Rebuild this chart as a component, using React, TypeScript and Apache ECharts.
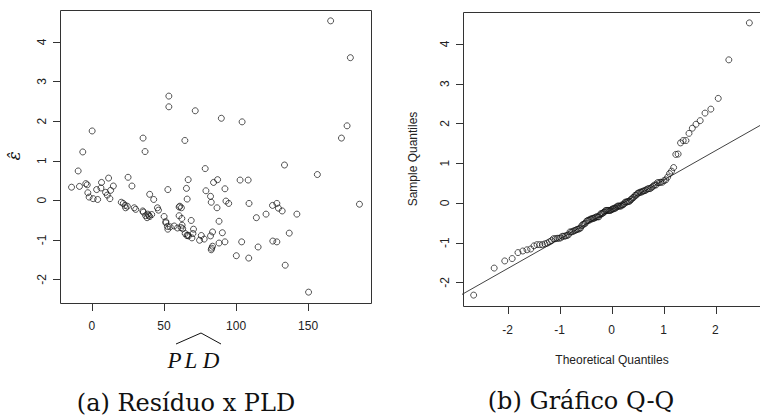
import React, { useEffect, useRef } from "react";
import * as echarts from "echarts";

// Fitted PLD (x) and residuals (y)
const pldHat: number[] = [
  165.6, 179.3, 53.4, 53.4, 71.7, 89.8, 104.2, 0.2, -6.3, -9.5, -14.1, -8.6, -4.2, -3.2, -2.8, -1.9, 0.9, 4.0, 3.3, 6.3,
  6.7, 11.6, 10.7, 12.5, 13.0, 14.9, 25.1, 27.8, 20.4, 21.8, 23.0, 23.4, 24.6, 29.4, 30.4, 35.3, 35.7, 37.3, 38.3, 40.1,
  41.5, 39.5, 35.5, 36.9, 40.1, 42.9, 45.5, 46.2, 50.1, 51.3, 52.7, 60.5, 62.1, 60.5, 62.4, 68.9, 64.5, 66.8, 65.6, 66.1,
  78.6, 79.1, 82.3, 82.8, 84.4, 87.2, 86.8, 88.2, 92.3, 93.0, 94.9, 102.8, 108.4, 109.0, 114.1, 120.8, 125.3, 128.3, 129.4, 132.0,
  133.6, 142.2, 156.4, 173.1, 177.0, 185.6,
  51.3, 52.4, 52.7, 54.3, 57.1, 59.4, 61.9, 62.6, 64.7, 65.9, 67.0, 69.4, 70.1, 70.5, 74.7, 75.9, 77.9, 82.3, 83.7, 83.7,
  82.8, 83.1, 88.2, 90.5, 92.3, 100.2, 103.9, 108.8, 115.3, 125.5, 128.3, 136.9, 134.1, 150.3,
  61.0, 63.0, 66.5, 9.5, 38.8,
];
const residuals: number[] = [
  4.53, 3.6, 2.63, 2.36, 2.26, 2.07, 1.98, 1.75, 1.22, 0.74, 0.33, 0.35, 0.42, 0.39, 0.19, 0.08, 0.04, 0.02, 0.27, 0.31,
  0.45, 0.56, 0.13, 0.04, 0.25, 0.36, 0.58, 0.36, -0.05, -0.08, -0.13, -0.19, -0.15, -0.19, -0.23, -0.27, -0.3, -0.39, -0.44, -0.41,
  -0.36, -0.38, 1.57, 1.23, 0.15, 0.02, -0.19, -0.25, -0.41, -0.54, 0.27, -0.17, -0.19, -0.39, -0.46, -0.51, 1.51, 0.52, 0.3, 0.03,
  0.8, 0.24, 0.1, -0.05, 0.45, 0.52, -0.19, -0.53, 0.29, -0.02, -0.08, 0.51, 0.51, -0.08, -0.44, -0.35, -0.13, -0.08, -0.2, -0.27,
  0.89, -0.35, 0.65, 1.57, 1.88, -0.1,
  -0.57, -0.66, -0.73, -0.67, -0.65, -0.7, -0.69, -0.63, -0.84, -0.89, -0.9, -0.95, -0.84, -0.73, -1.01, -0.89, -0.98, -0.9, -0.8, -1.16,
  -1.25, -1.21, -1.08, -0.82, -1.05, -1.4, -1.05, -1.46, -1.18, -1.03, -1.05, -0.83, -1.64, -2.32,
  -0.15, -0.72, -0.88, 0.2, -0.35,
];

const xTicksA: number[] = [0, 50, 100, 150];
const yTicks: number[] = [-2, -1, 0, 1, 2, 3, 4];
const xTicksB: number[] = [-2, -1, 0, 1, 2];

// inverse standard normal CDF (Acklam)
function qnorm(p: number): number {
  const a = [-3.969683028665376e1, 2.209460984245205e2, -2.759285104469687e2, 1.38357751867269e2, -3.066479806614716e1, 2.506628277459239];
  const b = [-5.447609879822406e1, 1.615858368580409e2, -1.556989798598866e2, 6.680131188771972e1, -1.328068155288572e1];
  const c = [-7.784894002430293e-3, -3.223964580411365e-1, -2.400758277161838, -2.549732539343734, 4.374664141464968, 2.938163982698783];
  const d = [7.784695709041462e-3, 3.224671290700398e-1, 2.445134137142996, 3.754408661907416];
  const pl = 0.02425;
  if (p < pl) {
    const q = Math.sqrt(-2 * Math.log(p));
    return (((((c[0] * q + c[1]) * q + c[2]) * q + c[3]) * q + c[4]) * q + c[5]) / ((((d[0] * q + d[1]) * q + d[2]) * q + d[3]) * q + 1);
  }
  if (p > 1 - pl) {
    const q = Math.sqrt(-2 * Math.log(1 - p));
    return -(((((c[0] * q + c[1]) * q + c[2]) * q + c[3]) * q + c[4]) * q + c[5]) / ((((d[0] * q + d[1]) * q + d[2]) * q + d[3]) * q + 1);
  }
  const q = p - 0.5;
  const r = q * q;
  return ((((((a[0] * r + a[1]) * r + a[2]) * r + a[3]) * r + a[4]) * r + a[5]) * q) / (((((b[0] * r + b[1]) * r + b[2]) * r + b[3]) * r + b[4]) * r + 1);
}

function quantile7(sorted: number[], p: number): number {
  const h = (sorted.length - 1) * p;
  const lo = Math.floor(h);
  const hi = Math.min(lo + 1, sorted.length - 1);
  return sorted[lo] + (h - lo) * (sorted[hi] - sorted[lo]);
}

const AX = { xA: [-22.1, 193.6], xB: [-2.857, 2.857], y: [-2.594, 4.804] };
const GRIDS = [
  { left: 60, top: 10, width: 311, height: 293 },
  { left: 463, top: 12, width: 298, height: 294 },
];

export default function App() {
  const ref = useRef<HTMLDivElement>(null);
  useEffect(() => {
    if (!ref.current) return;
    const chart = echarts.init(ref.current, undefined, { renderer: "svg" });
    const n = Math.min(pldHat.length, residuals.length);
    const scatterA = [] as number[][];
    for (let i = 0; i < n; i++) scatterA.push([pldHat[i], residuals[i]]);
    const sorted = residuals.slice(0, n).sort((x, y) => x - y);
    const qq = sorted.map((v, i) => [qnorm((i + 1 - 0.5) / n), v]);
    const y1 = quantile7(sorted, 0.25);
    const y2 = quantile7(sorted, 0.75);
    const x1 = qnorm(0.25);
    const x2 = qnorm(0.75);
    const slope = (y2 - y1) / (x2 - x1);
    const inter = y1 - slope * x1;
    const lineData = [-3.5, 3.5].map((x) => [x, inter + slope * x]);

    const tickFont = { fontSize: 12, color: "#222", fontFamily: "Liberation Sans, Arial, sans-serif" };
    const mkX = (grid: number, mm: number[], ticks: number[], margin: number) => ({
      gridIndex: grid, type: "value", min: mm[0], max: mm[1], position: "bottom",
      splitLine: { show: false },
      axisLine: { show: false, onZero: false },
      axisTick: { show: false },
      axisLabel: { ...tickFont, customValues: ticks, margin },
    });
    const mkY = (grid: number, mm: number[], margin: number) => ({
      gridIndex: grid, type: "value", min: mm[0], max: mm[1], position: "left",
      splitLine: { show: false },
      axisLine: { show: false, onZero: false },
      axisTick: { show: false },
      axisLabel: { ...tickFont, customValues: yTicks, margin, rotate: 90 },
    });
    const pointStyle = { color: "rgba(0,0,0,0)", borderColor: "#111", borderWidth: 0.9 };

    const baseGraphic: any[] = [
      { type: "text", x: 14, y: 156, rotation: Math.PI / 2, style: { text: "ε̂", font: 'italic 17px "DejaVu Serif"', align: "center", verticalAlign: "middle", fill: "#111" } },
      { type: "text", x: 174.5, y: 360, style: { text: "P", font: 'italic 23px "Liberation Serif"', align: "center", verticalAlign: "middle", fill: "#111" } },
      { type: "text", x: 191, y: 360, style: { text: "L", font: 'italic 23px "Liberation Serif"', align: "center", verticalAlign: "middle", fill: "#111" } },
      { type: "text", x: 211, y: 360, style: { text: "D", font: 'italic 23px "Liberation Serif"', align: "center", verticalAlign: "middle", fill: "#111" } },
      { type: "polyline", shape: { points: [[176, 344], [201, 333], [221, 344]] }, style: { stroke: "#111", lineWidth: 1, fill: "none" } },
      { type: "text", x: 413, y: 159, rotation: Math.PI / 2, style: { text: "Sample Quantiles", font: '12px "Liberation Sans"', align: "center", verticalAlign: "middle", fill: "#222" } },
      { type: "text", x: 612, y: 360, style: { text: "Theoretical Quantiles", font: '12px "Liberation Sans"', align: "center", verticalAlign: "middle", fill: "#222" } },
      { type: "text", x: 186, y: 403, style: { text: "(a) Resíduo x PLD", font: '24px "DejaVu Serif"', align: "center", verticalAlign: "middle", fill: "#111" } },
      { type: "text", x: 581, y: 401, style: { text: "(b) Gráfico Q-Q", font: '24px "DejaVu Serif"', align: "center", verticalAlign: "middle", fill: "#111" } },
    ];

    // plot boxes and tick marks (filled 1px rects), following each grid's axis ranges
    const frameEls: any[] = [];
    const addFrame = (g: number, xs: number[], xr: number[]) => {
      const G = GRIDS[g];
      const L = G.left + 0.5;
      const T = G.top + 0.5;
      const B = G.top + G.height + 0.5;
      const R = G.left + G.width + 0.5;
      frameEls.push({ type: "polyline", z: 10, shape: { points: [[L, T], [R, T], [R, B], [L, B], [L, T]] }, style: { stroke: "#333", lineWidth: 1, fill: "none" } });
      xs.forEach((t) => {
        const x = Math.round(G.left + ((t - xr[0]) / (xr[1] - xr[0])) * G.width);
        frameEls.push({ type: "rect", z: 10, shape: { x: x, y: G.top + G.height, width: 1, height: 8 }, style: { fill: "#333" } });
      });
      yTicks.forEach((t) => {
        const y = Math.round(G.top + G.height - ((t - AX.y[0]) / (AX.y[1] - AX.y[0])) * G.height);
        frameEls.push({ type: "rect", z: 10, shape: { x: G.left - 7, y: y, width: 8, height: 1 }, style: { fill: "#333" } });
      });
    };
    addFrame(0, xTicksA, AX.xA);
    addFrame(1, xTicksB, AX.xB);

    chart.setOption({
      animation: false,
      backgroundColor: "#fff",
      grid: GRIDS.map((g) => ({ ...g, show: false })),
      xAxis: [mkX(0, AX.xA, xTicksA, 17), mkX(1, AX.xB, xTicksB, 18)],
      yAxis: [mkY(0, AX.y, 12), mkY(1, AX.y, 12)],
      series: [
        { type: "scatter", xAxisIndex: 0, yAxisIndex: 0, data: scatterA, symbol: "circle", symbolSize: 6, itemStyle: pointStyle, silent: true },
        { type: "line", xAxisIndex: 1, yAxisIndex: 1, data: lineData, showSymbol: false, symbol: "none", lineStyle: { color: "#111", width: 0.8 }, clip: true, silent: true },
        { type: "scatter", xAxisIndex: 1, yAxisIndex: 1, data: qq, symbol: "circle", symbolSize: 6, itemStyle: pointStyle, silent: true },
      ],
      graphic: baseGraphic.concat(frameEls),
    });

    return () => chart.dispose();
  }, []);
  return <div ref={ref} style={{ position: "absolute", left: 0, top: 0, width: 760, height: 416 }} />;
}
